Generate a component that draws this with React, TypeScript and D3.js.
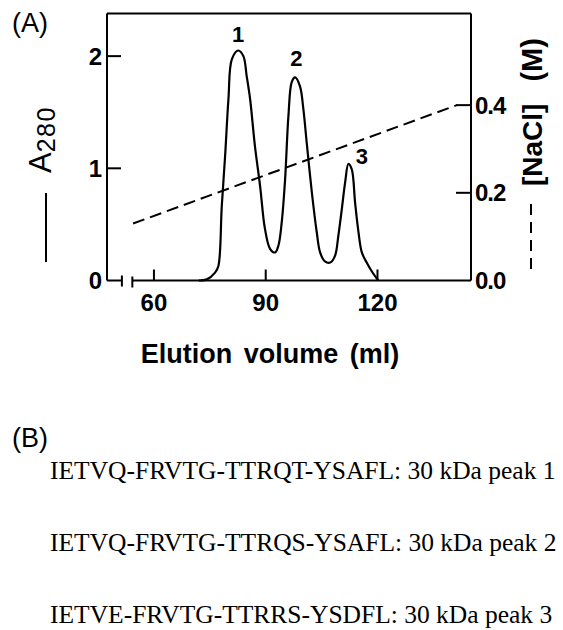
import React from "react";
import * as d3 from "d3";

// ---- data ----
const elutionVol = [72.0, 74.2, 76.4, 77.3, 78.2, 79.1, 80.0, 80.9, 82.6, 84.0, 84.9, 85.8, 87.1, 88.5, 89.8, 91.2, 92.5, 93.4, 94.3, 95.2, 96.1, 97.0, 97.9, 99.2, 100.1, 101.0, 102.4, 103.7, 104.6, 105.9, 107.3, 108.6, 109.5, 110.4, 111.3, 112.2, 113.1, 114.0, 114.9, 115.8, 117.1, 118.5, 120.2];
const a280 = [0.0, 0.01, 0.07, 0.13, 0.66, 1.11, 1.62, 1.97, 2.05, 2.0, 1.82, 1.62, 1.2, 0.84, 0.46, 0.28, 0.25, 0.31, 0.52, 0.9, 1.47, 1.77, 1.81, 1.73, 1.53, 1.23, 0.78, 0.43, 0.25, 0.17, 0.16, 0.22, 0.4, 0.63, 0.87, 1.04, 0.99, 0.69, 0.43, 0.25, 0.16, 0.08, 0.0];
const naclVol = [54.4, 141.3];
const naclConc = [0.13, 0.4];
const peakLabels = ["1", "2", "3"];
const peakLabelVol = [82.6, 98.2, 115.8];
const peakLabelA = [2.13, 1.91, 1.04];
const xTicks = [60, 90, 120];
const yLeftTicks = [0, 1, 2];
const yRightTicks = [0.0, 0.2, 0.4];
const axisBreak = [51.4, 54.2];
const sequences = [
  "IETVQ-FRVTG-TTRQT-YSAFL: 30 kDa peak 1",
  "IETVQ-FRVTG-TTRQS-YSAFL: 30 kDa peak 2",
  "IETVE-FRVTG-TTRRS-YSDFL: 30 kDa peak 3",
];

const SANS = "'Liberation Sans', Arial, Helvetica, sans-serif";
const SERIF = "'Liberation Serif', 'Times New Roman', serif";

export default function App() {
  const left = 107, right = 471, top = 13.5, bottom = 280.5;
  const x = d3.scaleLinear().domain([47.4, 145.1]).range([left, right]);
  const yA = d3.scaleLinear().domain([0, 2.38]).range([bottom, top]);
  const yN = d3.scaleLinear().domain([0, 0.609]).range([bottom, top]);

  const pts: [number, number][] = elutionVol.map((v, i) => [v, a280[i]]);
  const line = d3
    .line<[number, number]>()
    .x((d) => x(d[0]))
    .y((d) => yA(d[1]))
    .curve(d3.curveCatmullRom.alpha(0.5));
  const nacl: [number, number][] = naclVol.map((v, i) => [v, naclConc[i]]);
  const naclLine = d3
    .line<[number, number]>()
    .x((d) => x(d[0]))
    .y((d) => yN(d[1]));

  const b0 = x(axisBreak[0]);
  const b1 = x(axisBreak[1]);
  const sw = 2;

  return (
    <svg
      width={563}
      height={630}
      style={{ position: "absolute", left: 0, top: 0, background: "#fff" }}
    >
      <rect x={0} y={0} width={563} height={630} fill="#fff" />
      {/* (A) */}
      <text x={12} y={32} fontFamily={SANS} fontSize={27} fill="#000">
        (A)
      </text>

      {/* frame */}
      <g stroke="#000" strokeWidth={sw} fill="none">
        <line x1={left} y1={top} x2={right} y2={top} />
        <line x1={left} y1={top} x2={left} y2={bottom} />
        <line x1={right} y1={top} x2={right} y2={bottom} />
        <line x1={left} y1={bottom} x2={b0} y2={bottom} />
        <line x1={b1} y1={bottom} x2={right} y2={bottom} />
        <line x1={b0} y1={bottom - 5} x2={b0} y2={bottom + 6} />
        <line x1={b1} y1={bottom - 4} x2={b1} y2={bottom + 7} />
        {xTicks.map((t) => (
          <line key={"xt" + t} x1={x(t)} x2={x(t)} y1={bottom} y2={bottom - 11} />
        ))}
        {yLeftTicks.filter((t) => t > 0).map((t) => (
          <line key={"yl" + t} x1={left} x2={left + 14} y1={yA(t)} y2={yA(t)} />
        ))}
        {yRightTicks.filter((t) => t > 0).map((t) => (
          <line key={"yr" + t} x1={right} x2={right - 15} y1={yN(t)} y2={yN(t)} />
        ))}
      </g>

      {/* tick labels */}
      <g fontFamily={SANS} fontWeight="bold" fontSize={24} fill="#000">
        {xTicks.map((t) => (
          <text key={"xl" + t} x={x(t)} y={311} textAnchor="middle">
            {t}
          </text>
        ))}
        {yLeftTicks.map((t) => (
          <text key={"yll" + t} x={102} y={yA(t)} dy="0.36em" textAnchor="end">
            {t}
          </text>
        ))}
        {yRightTicks.map((t) => (
          <text key={"yrl" + t} x={475} y={yN(t)} dy="0.36em" letterSpacing={-1}>
            {t.toFixed(1)}
          </text>
        ))}
      </g>

      {/* NaCl gradient */}
      <path
        d={naclLine(nacl) || ""}
        fill="none"
        stroke="#000"
        strokeWidth={2}
        strokeDasharray="12,6"
      />
      {/* A280 trace */}
      <path d={line(pts) || ""} fill="none" stroke="#000" strokeWidth={2.2} strokeLinejoin="round" />

      {/* peak labels */}
      <g fontFamily={SANS} fontWeight="bold" fontSize={22} fill="#000">
        {peakLabels.map((p, i) => (
          <text key={p} x={x(peakLabelVol[i])} y={yA(peakLabelA[i])} textAnchor="middle">
            {p}
          </text>
        ))}
      </g>

      {/* left axis title */}
      <line x1={46} x2={46} y1={193} y2={262} stroke="#000" strokeWidth={2} />
      <text
        transform="translate(51,173) rotate(-90)"
        fontFamily={SANS}
        fontSize={31}
        fill="#000"
      >
        A
        <tspan fontSize={25} dy={4} letterSpacing={1.5}>
          280
        </tspan>
      </text>

      {/* right axis title */}
      <line
        x1={531}
        x2={531}
        y1={204}
        y2={272}
        stroke="#000"
        strokeWidth={2}
        strokeDasharray="11,7"
      />
      <text
        transform="translate(542,186) rotate(-90)"
        fontFamily={SANS}
        fontWeight="bold"
        fontSize={28}
        fill="#000"
      >
        [NaCl]
        <tspan dx={22} fontSize={29}>(M)</tspan>
      </text>

      {/* x axis title */}
      <text
        x={270}
        y={363}
        textAnchor="middle"
        fontFamily={SANS}
        fontWeight="bold"
        fontSize={27}
        wordSpacing={4}
        fill="#000"
      >
        Elution volume (ml)
      </text>

      {/* (B) */}
      <text x={12} y={447} fontFamily={SANS} fontSize={27} fill="#000">
        (B)
      </text>
      <g fontFamily={SERIF} fontSize={25.5} fill="#000">
        {sequences.map((s, i) => (
          <text key={i} x={50} y={479 + i * 72}>
            {s}
          </text>
        ))}
      </g>
    </svg>
  );
}
